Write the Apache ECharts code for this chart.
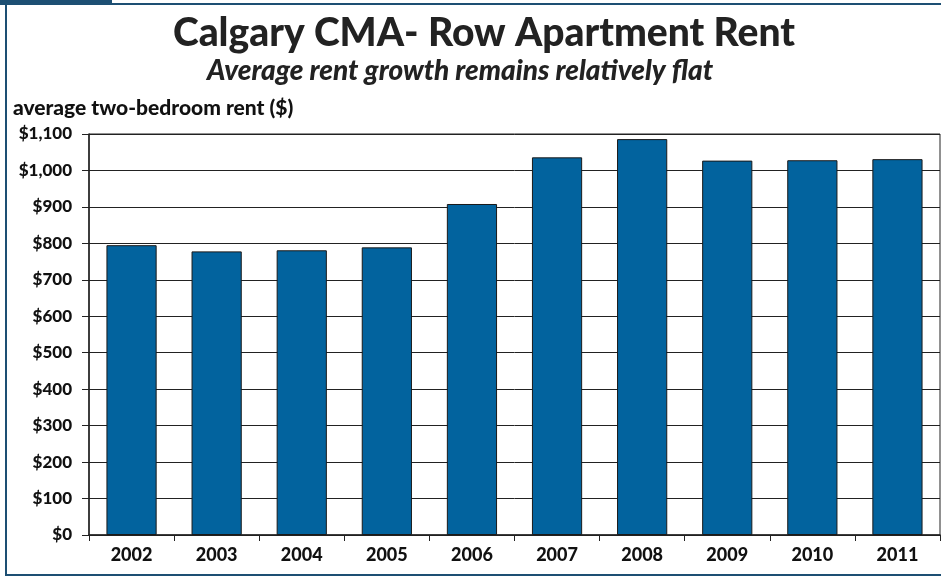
<!DOCTYPE html>
<html>
<head>
<meta charset="utf-8">
<script src="https://cdn.jsdelivr.net/npm/echarts@6/dist/echarts.min.js"></script>
<style>
  html, body { margin: 0; padding: 0; background: #fff; }
  #chart { width: 941px; height: 579px; }
</style>
</head>
<body>
<div id="chart"></div>
<script>
// data
const years = ['2002', '2003', '2004', '2005', '2006', '2007', '2008', '2009', '2010', '2011']
const rent = [795, 778, 781, 789, 908, 1036, 1086, 1027, 1028, 1031]

const font = 'Lato, "Open Sans", sans-serif'
const chart = echarts.init(document.getElementById('chart'))

chart.setOption({
  animation: false,
  textStyle: { fontFamily: font },
  title: [
    {
      text: 'Calgary CMA- Row Apartment Rent',
      left: 479,
      textAlign: 'center',
      top: 9,
      textStyle: { fontSize: 39, fontWeight: 900, color: '#222', fontFamily: font }
    },
    {
      text: 'Average rent growth remains relatively flat',
      left: 455,
      textAlign: 'center',
      top: 52,
      textStyle: { fontSize: 28, fontWeight: 900, fontStyle: 'italic', color: '#222', fontFamily: font }
    }
  ],
  graphic: [
    // frame round the picture
    { type: 'rect', shape: { x: 6, y: 4, width: 940, height: 571 }, style: { fill: 'none', stroke: '#1d4f73', lineWidth: 2 }, silent: true },
    { type: 'rect', shape: { x: 0, y: 0, width: 112, height: 5 }, style: { fill: '#1d4f73' }, silent: true },
    {
      type: 'text', left: 13, top: 98,
      style: { text: 'average two-bedroom rent ($)', fontSize: 21, fontWeight: 900, fill: '#111', fontFamily: font }
    }
  ],
  grid: { left: 89, right: 1, top: 134, bottom: 44, show: true, borderColor: '#222', borderWidth: 1 },
  xAxis: {
    type: 'category',
    data: years,
    axisLine: { lineStyle: { color: '#222', width: 1.5 } },
    axisTick: { show: true, length: 6, lineStyle: { color: '#222' } },
    axisLabel: { fontSize: 18, fontWeight: 900, color: '#111', margin: 11 }
  },
  yAxis: {
    type: 'value',
    min: 0,
    max: 1100,
    interval: 100,
    axisLine: { show: true, lineStyle: { color: '#222', width: 1.5 } },
    axisTick: { show: true, length: 7, lineStyle: { color: '#222' } },
    axisLabel: {
      fontSize: 17, fontWeight: 900, color: '#111', margin: 17,
      formatter: v => '$' + v.toLocaleString('en-US')
    },
    splitLine: { lineStyle: { color: '#222', width: 1 } }
  },
  series: [{
    type: 'bar',
    data: rent,
    barCategoryGap: '41%',
    itemStyle: { color: '#02639e', borderColor: '#1a1a1a', borderWidth: 1 }
  }]
})
</script>
</body>
</html>
